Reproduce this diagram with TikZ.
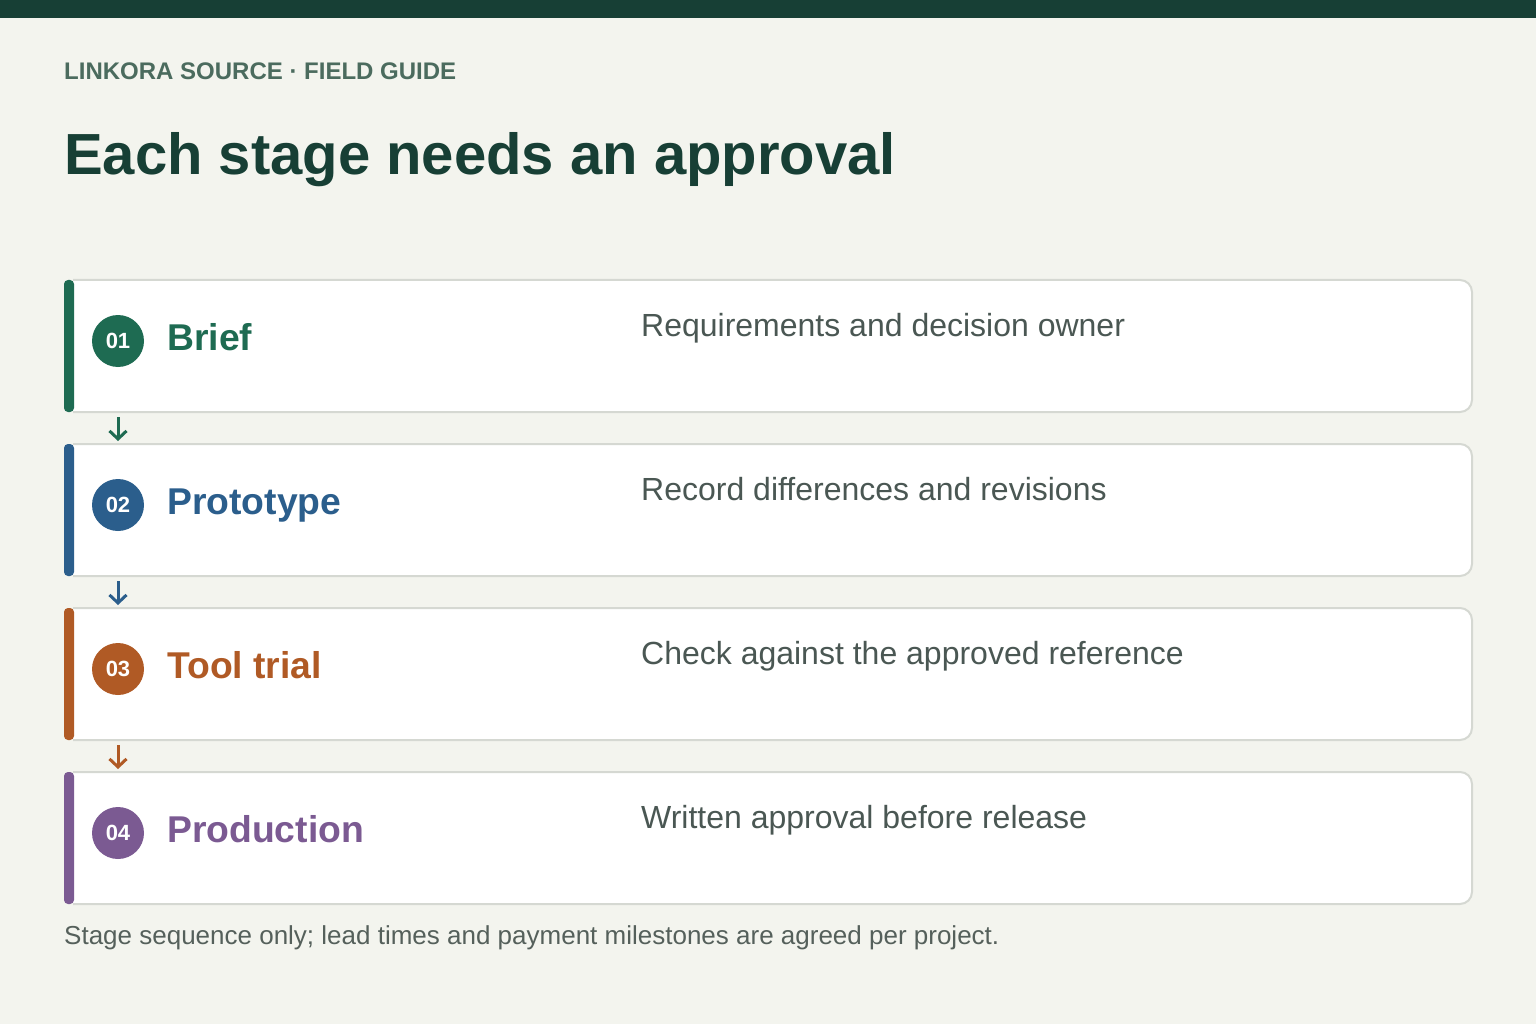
\documentclass[tikz,border=0pt]{standalone}
\usepackage{fontspec}
\setmainfont{Liberation Sans}
\usetikzlibrary{arrows.meta}
\definecolor{bgc}{HTML}{F3F4EE}
\definecolor{topc}{HTML}{173F35}
\definecolor{headc}{HTML}{4B6B5E}
\definecolor{titlec}{HTML}{173F35}
\definecolor{cgreen}{HTML}{1E6B52}
\definecolor{cblue}{HTML}{2B5E8C}
\definecolor{corange}{HTML}{B05A25}
\definecolor{cpurple}{HTML}{7B5A92}
\definecolor{descc}{HTML}{4A5753}
\definecolor{footc}{HTML}{55605B}
\definecolor{borderc}{HTML}{D5D8D2}
\tikzset{
  cardline/.style={draw=borderc, line width=2pt, fill=white, rounded corners=12pt},
  accbar/.style={rounded corners=4pt},
  numdisc/.style={circle, minimum size=52pt, inner sep=0pt, text=white, font=\bfseries\fontsize{22}{22}\selectfont},
  stagetitle/.style={anchor=base west, inner sep=0pt, font=\bfseries\fontsize{37.3}{37.3}\selectfont},
  stagedesc/.style={anchor=base west, inner sep=0pt, text=descc, font=\fontsize{32}{32}\selectfont},
  flowarrow/.style={line width=3pt, -{Straight Barb[length=8pt,width=17pt,line width=3pt]}},
}
\begin{document}
\begin{tikzpicture}[x=1pt,y=-1pt]
\useasboundingbox (0,0) rectangle (1536,1024);
\fill[bgc] (0,0) rectangle (1536,1024);
\fill[topc] (0,0) rectangle (1536,18);
\node[anchor=base west, inner sep=0pt, text=headc, font=\bfseries\fontsize{24}{24}\selectfont] (hdr) at (64,80) {LINKORA SOURCE · FIELD GUIDE};
\node[anchor=base west, inner sep=0pt, text=titlec, font=\bfseries\fontsize{58}{58}\selectfont] (ttl) at (64,175) {Each stage needs an approval};
% cards
\foreach \i/\t/\c/\num/\name/\desc in {
  1/280/cgreen/01/Brief/Requirements and decision owner,
  2/444/cblue/02/Prototype/Record differences and revisions,
  3/608/corange/03/Tool trial/Check against the approved reference,
  4/772/cpurple/04/Production/Written approval before release}{
  \draw[cardline] (73,\t) -| (1472,\t+132) -- (73,\t+132);
  \fill[\c, accbar] (64,\t) rectangle (74,\t+132);
  \node[numdisc, fill=\c] (n\i) at (118,\t+61) {\num};
  \node[stagetitle, text=\c] (s\i) at (167,\t+70) {\name};
  \node[stagedesc] (d\i) at (641,\t+56) {\desc};
  \coordinate (top\i) at (118,\t);
  \coordinate (bot\i) at (118,\t+132);
}
\draw[flowarrow, cgreen] ([yshift=-5pt]bot1) -- ([yshift=3pt]top2);
\draw[flowarrow, cblue] ([yshift=-5pt]bot2) -- ([yshift=3pt]top3);
\draw[flowarrow, corange] ([yshift=-5pt]bot3) -- ([yshift=3pt]top4);
\node[anchor=base west, inner sep=0pt, text=footc, font=\fontsize{26}{26}\selectfont] (ftr) at (64,944) {Stage sequence only; lead times and payment milestones are agreed per project.};
\end{tikzpicture}
\end{document}
